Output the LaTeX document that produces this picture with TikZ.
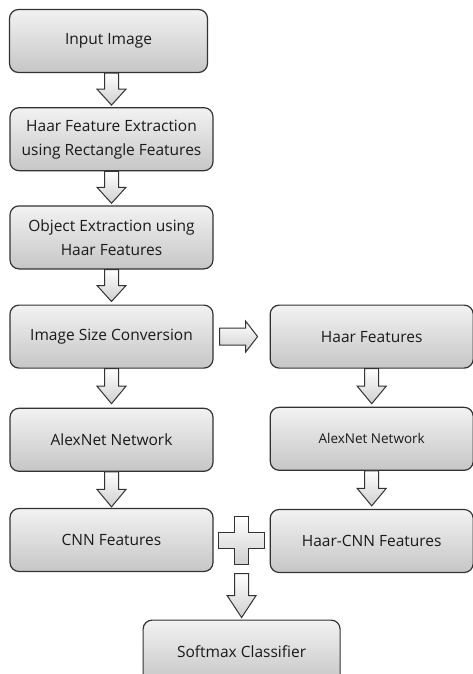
\documentclass[tikz,border=0pt]{standalone}
\usepackage{fontspec}
\setmainfont{Open Sans}
\usepackage{tikz}
\usetikzlibrary{positioning,calc}
\definecolor{BInk}{HTML}{1A1A1A}
\definecolor{BEdge}{HTML}{333333}
\definecolor{BTop}{HTML}{F2F2F2}
\definecolor{BBot}{HTML}{C6C6C6}
\definecolor{AFill}{HTML}{CFCFCF}

\begin{document}
\begin{tikzpicture}[
  x=1pt, y=1pt,
  every node/.style={font=\fontsize{15.5}{24}\selectfont, text=BInk},
  box/.style ={draw=BEdge, line width=1.2pt, rounded corners=9pt,
               top color=BTop, bottom color=BBot,
               minimum width=203pt, minimum height=63pt, align=center, inner sep=2pt},
  blk/.style ={draw=BEdge, line width=1pt, top color=white, bottom color=AFill},
  pics/darr/.style={code={
    \path[blk] (-7,0) -- (-7,{-0.5*#1}) -- (-14.5,{-0.5*#1}) -- (0,{-#1})
      -- (14.5,{-0.5*#1}) -- (7,{-0.5*#1}) -- (7,0) -- cycle;}},
  pics/rarr/.style={code={
    \path[blk] (0,8.5) -- (26,8.5) -- (26,15.5) -- (38,0) -- (26,-15.5)
      -- (26,-8.5) -- (0,-8.5) -- cycle;}},
  pics/plus/.style={code={
    \path[blk] (-7,24) -- (7,24) -- (7,8) -- (23,8) -- (23,-8) -- (7,-8) -- (7,-24)
      -- (-7,-24) -- (-7,-8) -- (-23,-8) -- (-23,8) -- (-7,8) -- cycle;}},
]
\useasboundingbox (0,0) rectangle (472,-674);

% left column
\node[box, minimum width=198pt] (in) at (108.5,-41) {Input Image};
\node[box, below=34pt of in, xshift=3pt] (hext) {Haar Feature Extraction\\using Rectangle Features};
\node[box, below=34pt of hext] (obj)   {Object Extraction using\\Haar Features};
\node[box, below=35pt of obj]  (imgsz) {Image Size Conversion};
\node[box, below=39pt of imgsz] (alex) {AlexNet Network};
\node[box, below=36pt of alex] (cnn)   {CNN Features};

% right column
\node[box, right=56pt of imgsz] (hfeat) {Haar Features};
\node[box, below=38pt of hfeat] (halex) {\fontsize{13.5}{16}\selectfont AlexNet Network};
\node[box, below=38pt of halex] (hcnn)  {Haar-CNN Features};

\coordinate (joint) at ($(cnn.east)!0.5!(hcnn.west)$);
\node[box, minimum width=197pt, below=79pt of joint] (soft) {Softmax Classifier};

% block arrows
\pic at (in.south -| hext.north) {darr=32};
\pic at (hext.south)  {darr=32};
\pic at (obj.south)   {darr=32};
\pic at (imgsz.south) {darr=35};
\pic at (alex.south)  {darr=35};
\pic at (hfeat.south) {darr=35};
\pic at (halex.south) {darr=35};
\pic at ([xshift=6pt]imgsz.east) {rarr};
\pic at (joint) {plus};
\pic at ([yshift=-33pt]joint) {darr=44};
\end{tikzpicture}
\end{document}
